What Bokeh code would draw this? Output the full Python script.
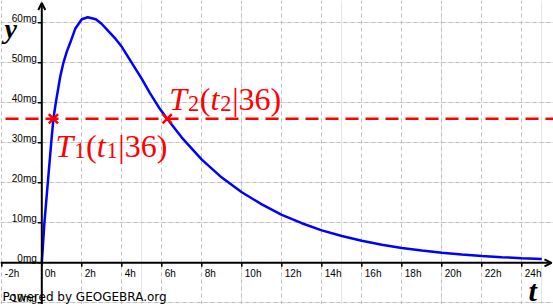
from bokeh.plotting import figure
from bokeh.models import Range1d, FixedTicker, Grid, Span, Arrow, OpenHead
from bokeh.core.properties import value
from bokeh.embed import file_html
from bokeh.resources import INLINE

# ---- data ----
t_hours = [0, 0.13, 0.3, 0.47, 0.58, 0.7, 0.92, 1.08, 1.25, 1.42, 1.67, 2.0, 2.3,
           2.7, 3.0, 3.33, 3.7, 4.0, 4.5, 5.0, 5.4, 5.9, 6.27, 7.0, 8.0, 9.0,
           10.0, 11.0, 12.0, 13.0, 14.0, 15.0, 16.0, 17.0, 18.0, 19.0, 20.0,
           21.0, 22.0, 23.0, 24.0, 25.0]
dose_mg = [0, 10, 20, 30, 36, 40, 46.5, 50, 52.8, 55, 58.5, 60.9, 61.4,
           60.9, 59.7, 57.9, 55.9, 54.0, 50.0, 46.0, 42.5, 38.5, 36.0, 31.3, 25.8, 21.3,
           17.65, 14.6, 12.0, 9.9, 8.1, 6.7, 5.5, 4.5, 3.7, 3.05, 2.5,
           2.05, 1.7, 1.4, 1.15, 0.95]

threshold = 36
cross_t = [0.58, 6.27]
cross_v = [36, 36]
cross_names = ["1", "2"]

x_ticks = [-2, 0, 2, 4, 6, 8, 10, 12, 14, 16, 18, 20, 22, 24]
x_tick_labels = ["-2h", "0h", "2h", "4h", "6h", "8h", "10h", "12h", "14h",
                 "16h", "18h", "20h", "22h", "24h"]
y_ticks = [-10, 0, 10, 20, 30, 40, 50, 60]
y_tick_labels = ["-10mg", "0mg", "10mg", "20mg", "30mg", "40mg", "50mg", "60mg"]
x_grid = [-2, 0, 2, 4, 6, 8, 10, 12, 14, 16, 18, 20, 22, 24]
y_grid = [-10, 0, 10, 20, 30, 40, 50, 60]

x0, x1 = -2.065, 25.585
y0, y1 = -10.425, 65.575
W, H = 553, 304
px_x = (x1 - x0) / W   # hours per pixel
px_y = (y1 - y0) / H   # mg per pixel

p = figure(width=W, height=H, x_range=Range1d(x0, x1), y_range=Range1d(y0, y1),
           output_backend="svg", toolbar_location=None,
           x_axis_location=None, y_axis_location=None, min_border=0,
           outline_line_color=None, background_fill_color="white",
           border_fill_color="white")

grid_style = dict(grid_line_color="#c0c0c0", grid_line_dash="4 3", grid_line_width=1)
p.add_layout(Grid(dimension=0, ticker=FixedTicker(ticks=x_grid), **grid_style))
p.add_layout(Grid(dimension=1, ticker=FixedTicker(ticks=y_grid), **grid_style))

# curve
p.line(t_hours, dose_mg, line_color="#0000ff", line_width=2.5)

# axes at the origin: lines with arrow heads and outward ticks
p.add_layout(Arrow(end=OpenHead(size=7, line_width=2, line_color="black"),
                   x_start=0, y_start=y0, x_end=0, y_end=y1 - 2.5 * px_y,
                   line_width=2, line_color="black"))
p.add_layout(Arrow(end=OpenHead(size=7, line_width=2, line_color="black"),
                   x_start=x0, y_start=0, x_end=x1 - 2 * px_x, y_end=0,
                   line_width=2, line_color="black"))
tick_px = 4
p.segment(x0=x_ticks, y0=[0] * len(x_ticks), x1=x_ticks,
          y1=[-tick_px * px_y] * len(x_ticks), line_color="black", line_width=1.5)
p.segment(x0=[0] * len(y_ticks), y0=y_ticks, x1=[-tick_px * px_x] * len(y_ticks),
          y1=y_ticks, line_color="black", line_width=1.5)

lab_font = value("Liberation Sans")
p.text(x=x_ticks, y=[0] * len(x_ticks), text=x_tick_labels, x_offset=3, y_offset=5,
       text_align="left", text_baseline="top", text_font=lab_font,
       text_font_size="10px", text_color="black")
p.text(x=[0] * len(y_ticks), y=y_ticks, text=y_tick_labels, x_offset=-5, y_offset=-4.5,
       text_align="right", text_baseline="alphabetic", text_font=lab_font,
       text_font_size="10px", text_color="black")

# threshold line and crossing points
p.add_layout(Span(location=threshold, dimension="width", line_color="#ff0000",
                  line_width=2.5, line_dash="13 7", line_dash_offset=15))
p.scatter(cross_t, cross_v, marker="x", size=13, line_color="#ff0000", line_width=2.5)

# T labels composed of pieces (italic letters, upright digits, subscripts)
serif = value("Liberation Serif")
S = 32


def math_label(xd, yd, sub, dx, dy):
    pieces = [("T", "italic", 1.0, 0, 0.556 + 0.03),
              (sub, "normal", 0.7, 5, 0.35 + 0.02),
              ("(", "normal", 1.0, 0, 0.333),
              ("t", "italic", 1.0, 0, 0.278 + 0.03),
              (sub, "normal", 0.7, 5, 0.35 + 0.02),
              ("|36)", "normal", 1.0, 0, 1.533)]
    cx = dx
    for txt, style, scale, sdy, w in pieces:
        p.text(x=[xd], y=[yd], text=[txt], x_offset=cx, y_offset=dy + sdy,
               text_align="left", text_baseline="alphabetic", text_font=serif,
               text_font_style=style, text_font_size=f"{S * scale:.1f}px",
               text_color="#ff0000")
        cx += w * S


math_label(cross_t[0], cross_v[0], cross_names[0], 2, 27)
math_label(cross_t[1], cross_v[1], cross_names[1], 2, -20)

# axis names
p.text(x=[x0], y=[y1], text=["y"], x_offset=4, y_offset=28, text_align="left",
       text_baseline="alphabetic", text_font=serif, text_font_style="bold italic",
       text_font_size="28px", text_color="black")
p.text(x=[x1], y=[y0], text=["t"], x_offset=-25, y_offset=-14, text_align="left",
       text_baseline="alphabetic", text_font=serif, text_font_style="bold italic",
       text_font_size="30px", text_color="black")

p.text(x=[x0], y=[y0], text=["Powered by GEOGEBRA.org"], x_offset=2, y_offset=-8,
       text_align="left", text_baseline="alphabetic", text_font=value("DejaVu Sans"),
       text_font_size="12px", text_color="black")

open("out.html", "w").write(file_html(p, INLINE))
